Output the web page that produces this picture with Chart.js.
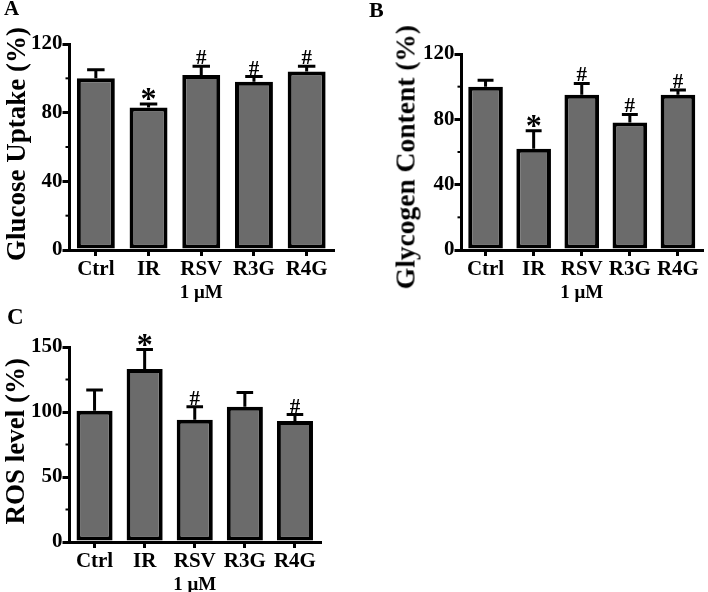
<!DOCTYPE html>
<html>
<head>
<meta charset="utf-8">
<script src="https://cdn.jsdelivr.net/npm/chart.js@4.4.0/dist/chart.umd.min.js"></script>
<style>
  body { margin:0; background:#fff; width:708px; height:592px; position:relative; overflow:hidden;
         font-family:"Liberation Serif","Times New Roman",serif; }
  .panel { position:absolute; }
  .lbl { position:absolute; font-weight:bold; line-height:1; color:#000; }
  .ytitle { position:absolute; font-weight:bold; line-height:1; color:#000; white-space:nowrap;
            writing-mode:vertical-rl; transform:rotate(180deg); }
</style>
</head>
<body>
<div class="panel" style="left:0;top:0;width:345px;height:303px"><canvas id="chartA"></canvas></div>
<div class="panel" style="left:350px;top:0;width:358px;height:303px"><canvas id="chartB"></canvas></div>
<div class="panel" style="left:0;top:300px;width:340px;height:295px"><canvas id="chartC"></canvas></div>

<div class="lbl" style="left:4px;top:-2px;font-size:21px">A</div>
<div class="lbl" style="left:369px;top:-1px;font-size:22px">B</div>
<div class="lbl" style="left:7px;top:305px;font-size:23px">C</div>

<div class="ytitle" style="left:3px;top:27px;font-size:27px">Glucose Uptake (%)</div>
<div class="ytitle" style="left:392px;top:25px;font-size:27.5px">Glycogen Content (%)</div>
<div class="ytitle" style="left:2px;top:358px;font-size:27px">ROS level (%)</div>

<script>
var groups = ['Ctrl', 'IR', 'RSV', 'R3G', 'R4G'];

var glucoseMean  = [100, 83, 102, 98, 104];
var glucoseErr   = [5, 2, 5, 3, 3];
var glucoseMarks = ['', '*', '#', '#', '#'];

var glycogenMean  = [100, 62, 95, 78, 95];
var glycogenErr   = [4, 11, 7, 5, 3];
var glycogenMarks = ['', '*', '#', '#', '#'];

var rosMean  = [101, 133, 94, 104, 93];
var rosErr   = [16, 15, 10, 11, 5];
var rosMarks = ['', '*', '#', '', '#'];

var serif = '"Liberation Serif", "Times New Roman", serif';

// error bars (upper half only), significance marks and minor y ticks
var errorBars = {
  id: 'errorBars',
  afterDatasetsDraw: function(chart) {
    var ctx = chart.ctx;
    var ds = chart.data.datasets[0];
    var meta = chart.getDatasetMeta(0);
    var y = chart.scales.y;
    ctx.save();
    ctx.strokeStyle = '#000';
    ctx.fillStyle = '#000';
    ctx.lineWidth = 3;
    ctx.textAlign = 'center';
    ctx.textBaseline = 'alphabetic';
    meta.data.forEach(function(bar, i) {
      var top = y.getPixelForValue(ds.data[i] + ds.errors[i]);
      var half = bar.width * 0.23;
      ctx.beginPath();
      ctx.moveTo(bar.x, bar.y);
      ctx.lineTo(bar.x, top);
      ctx.moveTo(bar.x - half, top);
      ctx.lineTo(bar.x + half, top);
      ctx.stroke();
      var m = ds.marks[i];
      if (m == '*') {
        ctx.font = 'bold 32px ' + serif;
        ctx.fillText(m, bar.x, top + 5);
      } else if (m) {
        ctx.font = 'bold 21px ' + serif;
        ctx.fillText(m, bar.x, top - 2);
      }
    });
    // minor ticks between labelled ones
    var ticks = y.ticks;
    var left = chart.chartArea.left;
    ctx.lineWidth = 2;
    for (var k = 0; k < ticks.length - 1; k++) {
      var v = (ticks[k].value + ticks[k + 1].value) / 2;
      var py = y.getPixelForValue(v);
      ctx.beginPath();
      ctx.moveTo(left - 4, py);
      ctx.lineTo(left, py);
      ctx.stroke();
    }
    ctx.restore();
  }
};

function makeChart(id, means, errs, marks, yMax, yStep, pad) {
  var ctx = document.getElementById(id);
  return new Chart(ctx, {
    type: 'bar',
    data: {
      labels: groups,
      datasets: [{
        data: means,
        errors: errs,
        marks: marks,
        backgroundColor: '#6b6b6b',
        borderColor: '#000',
        borderWidth: 4,
        borderSkipped: false,
        barPercentage: 0.72,
        categoryPercentage: 1.0
      }]
    },
    options: {
      responsive: true,
      maintainAspectRatio: false,
      animation: false,
      layout: { padding: pad },
      plugins: { legend: { display: false }, tooltip: { enabled: false } },
      scales: {
        x: {
          grid: { display: true, drawOnChartArea: false, offset: false, color: '#000', lineWidth: 3, tickLength: 6 },
          border: { display: true, color: '#000', width: 3 },
          ticks: { color: '#000', padding: 3, font: { family: serif, size: 21, weight: 'bold', lineHeight: 1.0 }, maxRotation: 0, autoSkip: false },
          title: { display: true, text: '1 μM', color: '#000', padding: { top: 1, bottom: 0 }, font: { family: serif, size: 19, weight: 'bold', lineHeight: 1.0 } }
        },
        y: {
          min: 0,
          max: yMax,
          grid: { display: true, drawOnChartArea: false, color: '#000', lineWidth: 3, tickLength: 7 },
          border: { display: true, color: '#000', width: 3 },
          ticks: { stepSize: yStep, color: '#000', padding: 0, font: { family: serif, size: 21, weight: 'bold' } }
        }
      }
    },
    plugins: [errorBars]
  });
}

makeChart('chartA', glucoseMean, glucoseErr, glucoseMarks, 120, 40, { left: 31, top: 44, right: 12, bottom: 0 });
makeChart('chartB', glycogenMean, glycogenErr, glycogenMarks, 120, 40, { left: 73, top: 54, right: 6, bottom: 0 });
makeChart('chartC', rosMean, rosErr, rosMarks, 150, 50, { left: 31, top: 47, right: 20, bottom: 0 });
</script>
</body>
</html>
